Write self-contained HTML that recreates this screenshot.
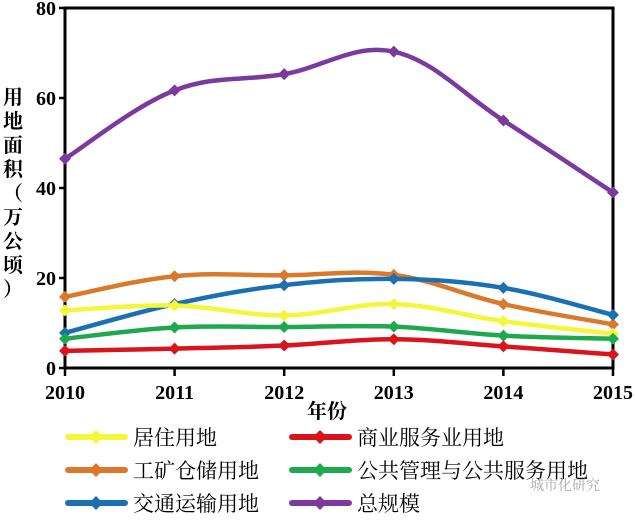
<!DOCTYPE html>
<html><head><meta charset="utf-8">
<style>
body{margin:0;background:#fff;width:635px;height:515px;overflow:hidden;font-family:"Liberation Serif","Noto Serif CJK SC",serif}
svg text{font-family:"Liberation Serif","Noto Serif CJK SC",serif}
</style></head><body>
<svg id="c" width="635" height="515" xmlns="http://www.w3.org/2000/svg"></svg>
<script>
const years=[2010,2011,2012,2013,2014,2015];
const yTicks=[0,20,40,60,80];
const seriesNames=["居住用地","商业服务业用地","工矿仓储用地","公共管理与公共服务用地","交通运输用地","总规模"];
const seriesColors=["#f5f53a","#d9141c","#d97a2a","#1fa94e","#1a70b0","#7b3a9e"];
const residential=[12.8,13.9,11.7,14.2,10.4,7.6];
const commercial=[3.8,4.3,5.0,6.4,4.8,3.0];
const industrial=[15.8,20.4,20.6,20.7,14.2,9.7];
const publicSvc=[6.5,9.0,9.1,9.2,7.2,6.5];
const transport=[7.8,14.2,18.4,19.8,17.8,11.8];
const total=[46.5,61.7,65.3,70.3,55.0,39.0];
const allSeries=[residential,commercial,industrial,publicSvc,transport,total];
const drawOrder=[5,2,4,0,3,1];
const svg=document.getElementById('c');
const NS='http://www.w3.org/2000/svg';
const L=65,R=613,T=8,B=368;
const xs=i=>L+(R-L)*i/(years.length-1);
const ys=v=>B-(B-T)*v/80;
function mk(tag,attrs,parent){const e=document.createElementNS(NS,tag);for(const k in attrs)e.setAttribute(k,attrs[k]);(parent||svg).appendChild(e);return e;}
const ax=mk('g',{});


mk('rect',{x:L,y:T,width:R-L,height:B-T,fill:'none',stroke:'#000','stroke-width':3},ax);
yTicks.forEach(t=>{
  mk('line',{x1:L-6,x2:L,y1:ys(t),y2:ys(t),stroke:'#000','stroke-width':2.5},ax);
  const tx=mk('text',{x:L-9,y:ys(t)+7,'text-anchor':'end','font-size':20,'font-weight':'bold'},ax);
  tx.textContent=t;
  
  
});
years.forEach((y,i)=>{
  mk('line',{x1:xs(i),x2:xs(i),y1:B,y2:B+8,stroke:'#000','stroke-width':2.5},ax);
  const tx=mk('text',{x:xs(i),y:B+31,'text-anchor':'middle','font-size':20,'font-weight':'bold'},ax);
  tx.textContent=y;
  
  
});
const xt=mk('text',{x:327,y:418,'text-anchor':'middle','font-size':20,'font-weight':'bold'});
xt.textContent='年份';


const yt=mk('text',{x:0,y:0,'font-size':20,'font-weight':'bold',transform:'translate(3,88)'});


'用地面积（万公顷）'.split('').forEach((ch,i)=>{const s=mk('tspan',{x:0,y:i*24+16},yt);s.textContent=ch;});
function smooth(pts){
  let d=`M${pts[0][0]},${pts[0][1]}`;
  for(let i=0;i<pts.length-1;i++){
    const p0=pts[i-1]||pts[i],p1=pts[i],p2=pts[i+1],p3=pts[i+2]||p2;
    const k=0.18;
    d+=` C${p1[0]+(p2[0]-p0[0])*k},${p1[1]+(p2[1]-p0[1])*k} ${p2[0]-(p3[0]-p1[0])*k},${p2[1]-(p3[1]-p1[1])*k} ${p2[0]},${p2[1]}`;
  }
  return d;
}
function diamond(g,x,y,c,r){mk('path',{d:`M${x},${y-r}L${x+r},${y}L${x},${y+r}L${x-r},${y}Z`,fill:c},g);}
drawOrder.forEach(si=>{
  const g=mk('g',{});
  
  
  const pts=allSeries[si].map((v,i)=>[xs(i),ys(v)]);
  mk('path',{d:smooth(pts),fill:'none',stroke:seriesColors[si],'stroke-width':4.5},g);
  pts.forEach(p=>diamond(g,p[0],p[1],seriesColors[si],6));
});
const lg=mk('g',{});


seriesNames.forEach((n,i)=>{
  const col=i%2,row=Math.floor(i/2);
  const x0=col?292:68,y0=437+row*33;
  const e=mk('g',{},lg);
  
  
  mk('line',{x1:x0,x2:x0+57,y1:y0,y2:y0,stroke:seriesColors[i],'stroke-width':6,'stroke-linecap':'round'},e);
  diamond(e,x0+28,y0,seriesColors[i],7);
  const t=mk('text',{x:x0+65,y:y0+8,'font-size':21},e);
  t.textContent=n;
});
const wm=mk('text',{x:530,y:490,'font-size':14,fill:'#aaa'});
wm.textContent='城市化研究';


</script>
</body></html>
